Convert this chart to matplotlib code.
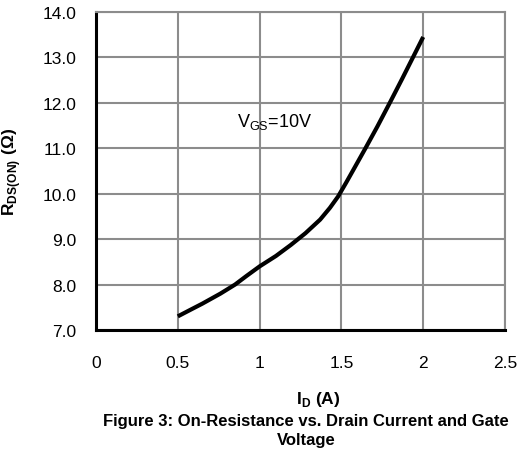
import matplotlib
matplotlib.use('Agg')
import matplotlib.pyplot as plt
import numpy as np

plt.rcParams['font.family'] = ['Liberation Sans', 'DejaVu Sans']

# Prąd drenu (A) i rezystancja (Ω)
id_a = [0.5, 0.58, 0.65, 0.76, 0.85, 0.92, 1.0, 1.1, 1.19, 1.28, 1.37, 1.43,
        1.48, 1.53, 1.58, 1.65, 1.72, 1.80, 1.87, 1.94, 2.0]
rds_on = [7.30, 7.45, 7.58, 7.80, 8.00, 8.19, 8.40, 8.63, 8.87, 9.13, 9.43, 9.69,
          9.94, 10.25, 10.57, 11.02, 11.48, 12.03, 12.52, 13.02, 13.45]

x_ticks = [0, 0.5, 1, 1.5, 2, 2.5]
x_tick_labels = ['0', '0.5', '1', '1.5', '2', '2.5']
y_ticks = [7, 8, 9, 10, 11, 12, 13, 14]

fig = plt.figure(figsize=(5.23, 4.56), dpi=100)
ax = fig.add_axes([96/523, 1 - 331/456, (505-96)/523, (331-13)/456])

ax.plot(id_a, rds_on, color='black', linewidth=3.0, solid_capstyle='butt',
        solid_joinstyle='round')

ax.set_xlim(0, 2.5)
ax.set_ylim(7, 14)
ax.set_xticks(x_ticks)
ax.set_xticklabels(x_tick_labels)
ax.set_yticks(y_ticks)
ax.set_yticklabels([f'{v:.1f}' for v in y_ticks])
ax.tick_params(axis='x', length=0, pad=18, labelsize=12.5)
ax.tick_params(axis='y', length=0, pad=14, labelsize=12.5)

ax.grid(True, color='#8c8c8c', linewidth=1.5)
ax.set_axisbelow(True)
for s in ['top', 'right']:
    ax.spines[s].set_color('#8c8c8c')
    ax.spines[s].set_linewidth(1.5)
for s in ['left', 'bottom']:
    ax.spines[s].set_color('black')
    ax.spines[s].set_linewidth(2.2)

ax.text(0.86, 11.6, r'V$_{\mathregular{GS}}$=10V', fontsize=13, va='center')

ax.set_xlabel(r'I$_{\mathregular{D}}$ (A)', fontsize=12.5, fontweight='bold')
ax.xaxis.set_label_coords((318 - 96) / (505 - 96), -(400 - 331) / (331 - 13))
ax.xaxis.label.set_va('center')
ax.set_ylabel(r'R$_{\mathregular{DS(ON)}}$ ($\mathregular{\Omega}$)', fontsize=12.5,
              fontweight='bold', labelpad=14)

fig.text(306/523, 1 - 431/456, 'Figure 3: On-Resistance vs. Drain Current and Gate\nVoltage',
         ha='center', va='center', fontsize=12, fontweight='bold', linespacing=1.3)

fig.savefig('out.png', dpi=100)
